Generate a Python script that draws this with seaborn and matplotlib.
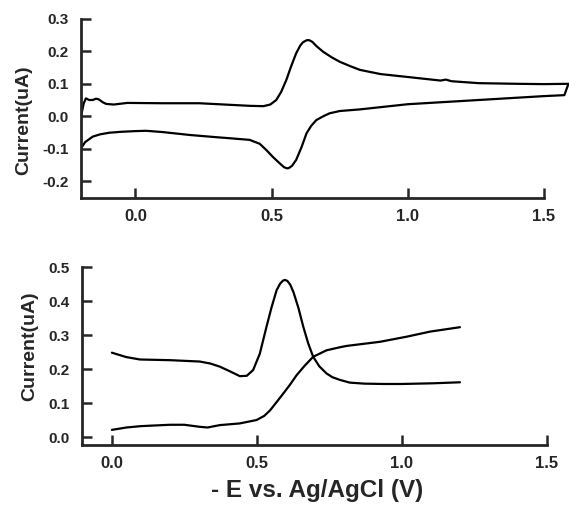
import pandas as pd
import matplotlib
matplotlib.use("Agg")
import matplotlib.pyplot as plt
import seaborn as sns

# Top panel: cyclic voltammogram (forward sweep then reverse sweep)
cv_fwd_E = [-0.2, -0.19, -0.182, -0.17, -0.157, -0.145, -0.135, -0.12, -0.108, -0.08,
            -0.03, 0.1, 0.235, 0.35, 0.42, 0.47, 0.495, 0.517, 0.535, 0.554, 0.572,
            0.59, 0.605, 0.615, 0.625, 0.632, 0.64, 0.65, 0.665, 0.689, 0.72, 0.75,
            0.79, 0.824, 0.9, 1.0, 1.12, 1.14, 1.16, 1.26, 1.4, 1.5, 1.59]
cv_fwd_I = [0.0, 0.04, 0.055, 0.05, 0.05, 0.054, 0.052, 0.043, 0.038, 0.036,
            0.041, 0.04, 0.04, 0.035, 0.032, 0.031, 0.036, 0.05, 0.075, 0.112, 0.155,
            0.194, 0.218, 0.228, 0.233, 0.235, 0.234, 0.229, 0.216, 0.199, 0.182, 0.168,
            0.154, 0.143, 0.13, 0.121, 0.11, 0.113, 0.108, 0.102, 0.1, 0.099, 0.1]
cv_rev_E = [1.59, 1.575, 1.5, 1.26, 1.0, 0.824, 0.75, 0.713, 0.69, 0.664, 0.645,
            0.628, 0.61, 0.59, 0.575, 0.565, 0.56, 0.553, 0.545, 0.529, 0.505, 0.48,
            0.456, 0.419, 0.346, 0.3, 0.2, 0.1, 0.039, 0.0, -0.05, -0.096, -0.13,
            -0.157, -0.185, -0.2]
cv_rev_I = [0.1, 0.065, 0.062, 0.05, 0.037, 0.021, 0.016, 0.009, 0.0, -0.012, -0.03,
            -0.053, -0.095, -0.135, -0.153, -0.159, -0.161, -0.16, -0.157, -0.145, -0.126, -0.104,
            -0.085, -0.073, -0.068, -0.065, -0.058, -0.049, -0.045, -0.046, -0.048, -0.051, -0.056,
            -0.063, -0.08, -0.099]

# Bottom panel: two scans
peak_E = [0.0, 0.05, 0.097, 0.2, 0.303, 0.34, 0.372, 0.41, 0.441, 0.465, 0.487, 0.51,
          0.533, 0.55, 0.568, 0.58, 0.59, 0.597, 0.605, 0.615, 0.626, 0.643, 0.66, 0.677,
          0.694, 0.715, 0.74, 0.76, 0.786, 0.82, 0.87, 0.935, 1.0, 1.107, 1.2]
peak_I = [0.248, 0.235, 0.228, 0.226, 0.222, 0.216, 0.207, 0.192, 0.179, 0.18, 0.197, 0.245,
          0.324, 0.38, 0.432, 0.451, 0.46, 0.462, 0.459, 0.448, 0.426, 0.38, 0.324, 0.275,
          0.236, 0.208, 0.187, 0.176, 0.168, 0.16, 0.157, 0.156, 0.156, 0.158, 0.161]
rise_E = [0.0, 0.05, 0.1, 0.2, 0.25, 0.303, 0.33, 0.372, 0.441, 0.499, 0.525, 0.545,
          0.57, 0.591, 0.615, 0.637, 0.665, 0.694, 0.74, 0.786, 0.81, 0.924, 1.016, 1.097, 1.2]
rise_I = [0.021, 0.028, 0.032, 0.036, 0.036, 0.030, 0.028, 0.035, 0.040, 0.05, 0.062, 0.078,
          0.105, 0.128, 0.155, 0.182, 0.21, 0.236, 0.255, 0.264, 0.268, 0.28, 0.295, 0.31, 0.323]

top_yticks = [-0.2, -0.1, 0.0, 0.1, 0.2, 0.3]
bot_yticks = [0.0, 0.1, 0.2, 0.3, 0.4, 0.5]
xticks = [0.0, 0.5, 1.0, 1.5]


def style_axis(ax, yticks):
    for side in ["top", "right"]:
        ax.spines[side].set_visible(False)
    for side in ["left", "bottom"]:
        ax.spines[side].set_linewidth(2)
    ax.tick_params(direction="in", length=7, width=1.8)
    ax.tick_params(axis="x", pad=8)
    ax.tick_params(axis="y", pad=9)
    ax.set_xticks(xticks)
    ax.set_xticklabels([f"{t:.1f}" for t in xticks], fontsize=12, fontweight="bold")
    ax.set_yticks(yticks)
    ax.set_yticklabels([f"{t:.1f}" for t in yticks], fontsize=11, fontweight="bold")
    ax.set_xlabel("")
    ax.set_ylabel("Current(uA)", fontsize=14, fontweight="bold")


def main():
    sns.set_style("ticks")
    plt.rcParams["font.family"] = ["Liberation Sans", "DejaVu Sans"]

    fig = plt.figure(figsize=(5.69, 5.08), dpi=100)
    ax1 = fig.add_axes([0.1424, 0.6102, 0.8576, 0.3524])
    ax2 = fig.add_axes([0.1441, 0.124, 0.8172, 0.3504])

    cv = pd.DataFrame({"E": cv_fwd_E + cv_rev_E, "I": cv_fwd_I + cv_rev_I})
    sns.lineplot(data=cv, x="E", y="I", sort=False, estimator=None,
                 color="black", linewidth=1.6, ax=ax1)
    ax1.set_xlim(-0.2, 1.592)
    ax1.set_ylim(-0.2525, 0.3)
    ax1.spines["bottom"].set_bounds(-0.2, 1.5)
    style_axis(ax1, top_yticks)
    ax1.yaxis.set_label_coords(-0.100, 0.436)

    peak = pd.DataFrame({"E": peak_E, "I": peak_I})
    rise = pd.DataFrame({"E": rise_E, "I": rise_I})
    sns.lineplot(data=peak, x="E", y="I", sort=False, estimator=None,
                 color="black", linewidth=1.6, ax=ax2)
    sns.lineplot(data=rise, x="E", y="I", sort=False, estimator=None,
                 color="black", linewidth=1.6, ax=ax2)
    ax2.set_xlim(-0.103, 1.5)
    ax2.set_ylim(-0.0235, 0.5)
    style_axis(ax2, bot_yticks)
    ax2.yaxis.set_label_coords(-0.095, 0.556)

    fig.text(0.557, 0.035, "- E vs. Ag/AgCl (V)", ha="center", va="center",
             fontsize=17.5, fontweight="bold")

    fig.savefig("out.png", dpi=100)


if __name__ == "__main__":
    main()
